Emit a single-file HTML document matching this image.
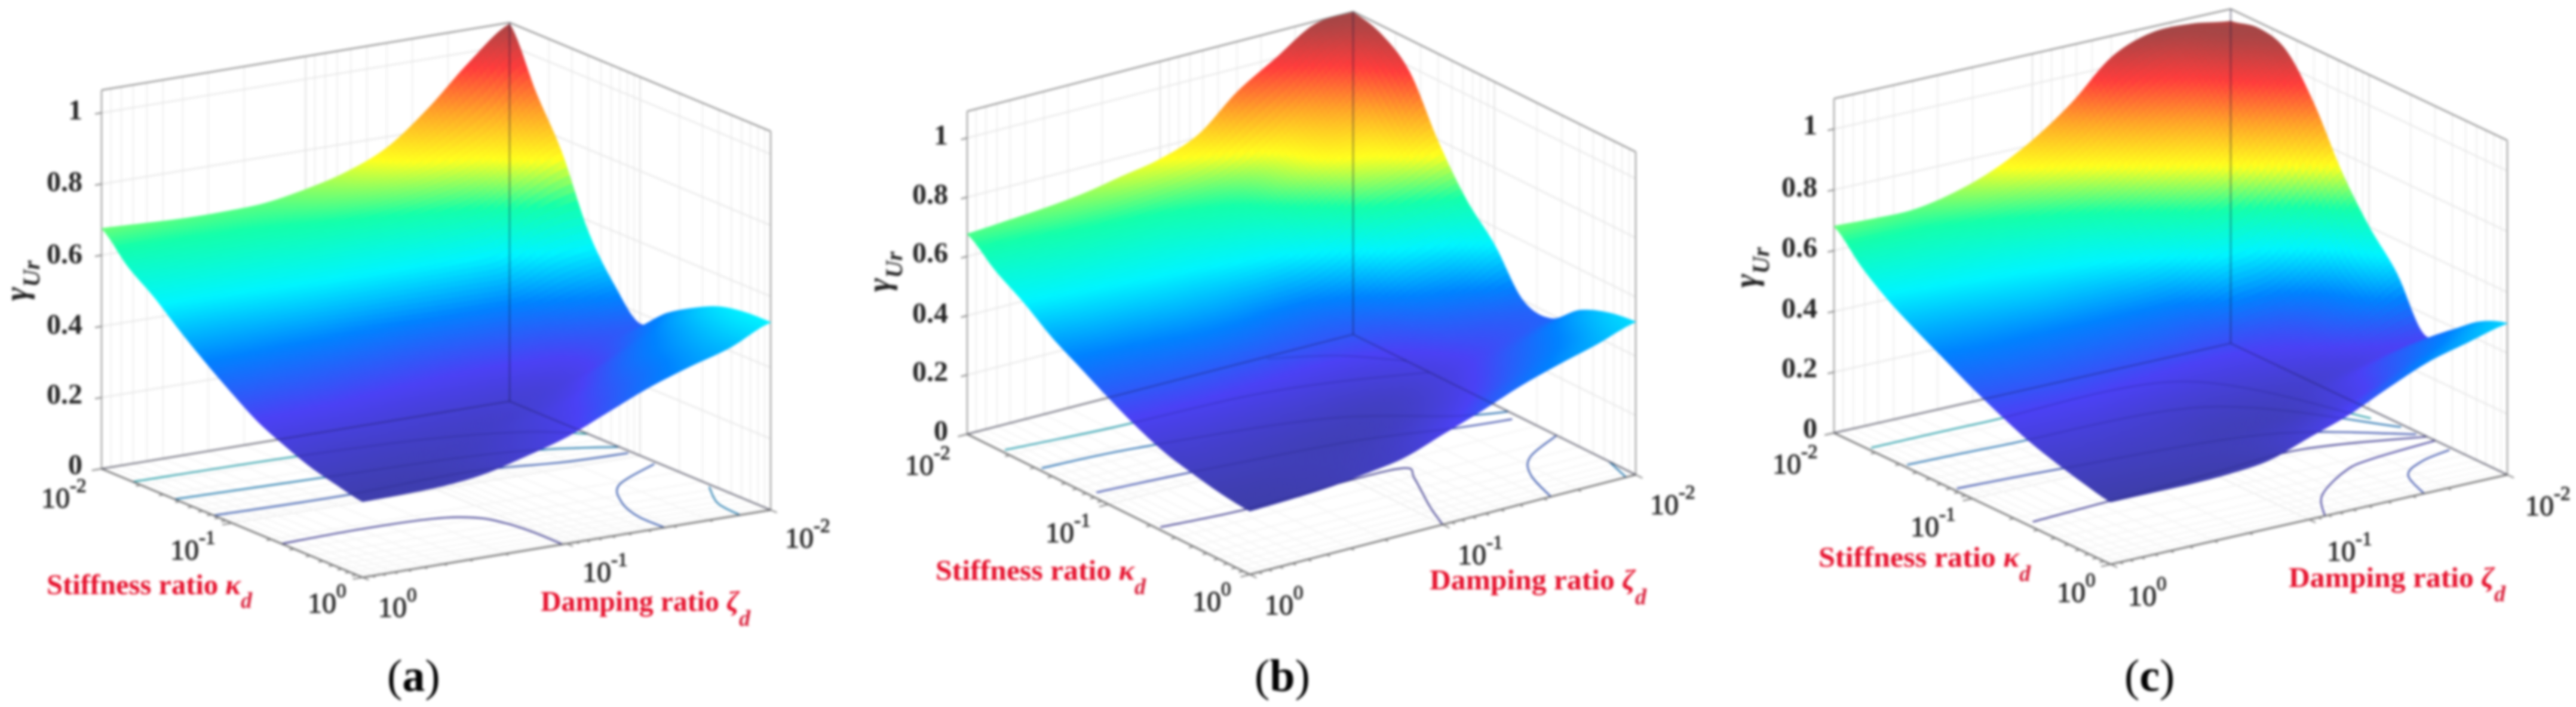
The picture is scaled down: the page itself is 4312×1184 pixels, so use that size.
<!DOCTYPE html>
<html lang="en">
<head>
<meta charset="utf-8">
<title>Response ratio surfaces</title>
<style>
  html, body { margin: 0; padding: 0; background: #fff; }
  body { width: 4312px; height: 1184px; overflow: hidden; }
  svg { display: block; filter: blur(2px); }
  text { font-family: "Liberation Serif", serif; }
  .z { font-size: 48px; font-weight: bold; fill: #222; text-anchor: end; }
  .lg { font-size: 48px; fill: #222; stroke: #222; stroke-width: 1px; }
  .ax { font-size: 48px; font-weight: bold; fill: #e5102c; }
  .sub { font-size: 38px; font-style: italic; font-weight: bold; fill: #d9213c; }
  .gam { font-size: 56px; font-style: italic; font-weight: bold; fill: #222; text-anchor: middle; }
  .cap { font-size: 76px; fill: #000; }
</style>
</head>
<body>
<svg id="fig" xmlns="http://www.w3.org/2000/svg" width="4312" height="1184" viewBox="0 0 4312 1184">
  <rect width="4312" height="1184" fill="#fff"/>
  <g id="panel-a"></g>
  <g id="panel-b"></g>
  <g id="panel-c"></g>

  <g>
    <text class="z" x="138" y="794">0</text>
    <text class="z" x="138" y="676">0.2</text>
    <text class="z" x="138" y="559">0.4</text>
    <text class="z" x="138" y="441">0.6</text>
    <text class="z" x="138" y="320">0.8</text>
    <text class="z" x="138" y="200">1</text>
    <text class="gam" transform="translate(46,470) rotate(-90)">γ<tspan font-size="40" dy="20">Ur</tspan></text>
    <text class="lg" x="69" y="850">10<tspan font-size="33" dy="-26">-2</tspan></text>
    <text class="lg" x="285" y="937">10<tspan font-size="33" dy="-26">-1</tspan></text>
    <text class="lg" x="515" y="1026">10<tspan font-size="33" dy="-26">0</tspan></text>
    <text class="lg" x="633" y="1033">10<tspan font-size="33" dy="-26">0</tspan></text>
    <text class="lg" x="975" y="974">10<tspan font-size="33" dy="-26">-1</tspan></text>
    <text class="lg" x="1314" y="917">10<tspan font-size="33" dy="-26">-2</tspan></text>
    <text class="ax" x="78" y="995" textLength="325" lengthAdjust="spacingAndGlyphs">Stiffness ratio <tspan font-style="italic">κ</tspan></text>
    <text class="sub" x="403" y="1018">d</text>
    <text class="ax" x="905" y="1023" textLength="332" lengthAdjust="spacingAndGlyphs">Damping ratio <tspan font-style="italic">ζ</tspan></text>
    <text class="sub" x="1237" y="1048">d</text>
    <text class="cap" x="648" y="1157">(<tspan font-weight="bold">a</tspan>)</text>
  </g>

  <g>
    <text class="z" x="1587" y="737">0</text>
    <text class="z" x="1587" y="638">0.2</text>
    <text class="z" x="1587" y="540">0.4</text>
    <text class="z" x="1587" y="439">0.6</text>
    <text class="z" x="1587" y="341">0.8</text>
    <text class="z" x="1587" y="242">1</text>
    <text class="gam" transform="translate(1490,455) rotate(-90)">γ<tspan font-size="40" dy="20">Ur</tspan></text>
    <text class="lg" x="1515" y="795">10<tspan font-size="33" dy="-26">-2</tspan></text>
    <text class="lg" x="1750" y="908">10<tspan font-size="33" dy="-26">-1</tspan></text>
    <text class="lg" x="1996" y="1023">10<tspan font-size="33" dy="-26">0</tspan></text>
    <text class="lg" x="2117" y="1029">10<tspan font-size="33" dy="-26">0</tspan></text>
    <text class="lg" x="2440" y="945">10<tspan font-size="33" dy="-26">-1</tspan></text>
    <text class="lg" x="2762" y="861">10<tspan font-size="33" dy="-26">-2</tspan></text>
    <text class="ax" x="1566" y="971" textLength="333" lengthAdjust="spacingAndGlyphs">Stiffness ratio <tspan font-style="italic">κ</tspan></text>
    <text class="sub" x="1899" y="995">d</text>
    <text class="ax" x="2393" y="987" textLength="344" lengthAdjust="spacingAndGlyphs">Damping ratio <tspan font-style="italic">ζ</tspan></text>
    <text class="sub" x="2737" y="1012">d</text>
    <text class="cap" x="2100" y="1157">(<tspan font-weight="bold">b</tspan>)</text>
  </g>

  <g>
    <text class="z" x="3042" y="733">0</text>
    <text class="z" x="3042" y="632">0.2</text>
    <text class="z" x="3042" y="532">0.4</text>
    <text class="z" x="3042" y="430">0.6</text>
    <text class="z" x="3042" y="329">0.8</text>
    <text class="z" x="3042" y="225">1</text>
    <text class="gam" transform="translate(2941,448) rotate(-90)">γ<tspan font-size="40" dy="20">Ur</tspan></text>
    <text class="lg" x="2967" y="793">10<tspan font-size="33" dy="-26">-2</tspan></text>
    <text class="lg" x="3198" y="898">10<tspan font-size="33" dy="-26">-1</tspan></text>
    <text class="lg" x="3443" y="1008">10<tspan font-size="33" dy="-26">0</tspan></text>
    <text class="lg" x="3562" y="1014">10<tspan font-size="33" dy="-26">0</tspan></text>
    <text class="lg" x="3895" y="939">10<tspan font-size="33" dy="-26">-1</tspan></text>
    <text class="lg" x="4227" y="863">10<tspan font-size="33" dy="-26">-2</tspan></text>
    <text class="ax" x="3044" y="949" textLength="336" lengthAdjust="spacingAndGlyphs">Stiffness ratio <tspan font-style="italic">κ</tspan></text>
    <text class="sub" x="3380" y="973">d</text>
    <text class="ax" x="3831" y="983" textLength="344" lengthAdjust="spacingAndGlyphs">Damping ratio <tspan font-style="italic">ζ</tspan></text>
    <text class="sub" x="4175" y="1007">d</text>
    <text class="cap" x="3556" y="1157">(<tspan font-weight="bold">c</tspan>)</text>
  </g>
</svg>

<script>
// ---- Data ----
// Grid axes: log10 of damping ratio (columns) and stiffness ratio (rows).
const zetaLogGrid = [-2, -1.8, -1.6, -1.4, -1.2, -1, -0.8, -0.6, -0.4, -0.2, 0];
const kappaLogGrid = [-2, -1.8, -1.6, -1.4, -1.2, -1, -0.8, -0.6, -0.4, -0.2, 0];
const gammaTicks = [0, 0.2, 0.4, 0.6, 0.8, 1];
const logTicks = [0.01,0.02,0.03,0.04,0.05,0.06,0.07,0.08,0.09,0.1,0.2,0.3,0.4,0.5,0.6,0.7,0.8,0.9,1];

const gammaA = [
  [1.06,.97,.86,.77,.72,.69,.67,.665,.665,.67,.675],
  [.90,.80,.74,.70,.67,.65,.635,.625,.62,.61,.60],
  [.76,.70,.63,.60,.58,.57,.57,.56,.555,.55,.545],
  [.57,.55,.495,.49,.49,.49,.49,.49,.485,.48,.48],
  [.45,.42,.39,.385,.385,.39,.40,.41,.415,.42,.42],
  [.37,.35,.325,.32,.32,.325,.335,.345,.355,.36,.365],
  [.43,.37,.31,.28,.275,.28,.285,.295,.305,.31,.315],
  [.475,.42,.36,.30,.27,.255,.255,.26,.265,.27,.28],
  [.51,.45,.40,.34,.295,.265,.245,.24,.24,.245,.25],
  [.525,.47,.42,.37,.32,.28,.255,.235,.225,.225,.23],
  [.527,.475,.44,.40,.35,.30,.265,.235,.22,.215,.213]
];
const gammaB = [
  [1.087,1.08,1.00,.92,.81,.76,.735,.71,.695,.685,.676],
  [1.06,.96,.85,.76,.70,.67,.65,.64,.63,.615,.60],
  [.98,.82,.77,.70,.63,.60,.58,.57,.56,.55,.54],
  [.795,.73,.68,.60,.54,.52,.51,.505,.495,.485,.47],
  [.645,.60,.55,.47,.43,.43,.44,.44,.43,.42,.415],
  [.54,.47,.43,.38,.36,.36,.365,.37,.37,.365,.36],
  [.40,.38,.36,.32,.30,.295,.30,.305,.31,.31,.31],
  [.385,.36,.33,.29,.26,.25,.255,.26,.265,.27,.27],
  [.46,.41,.36,.31,.27,.245,.235,.235,.24,.245,.245],
  [.50,.445,.40,.35,.305,.27,.245,.235,.23,.225,.225],
  [.516,.475,.44,.40,.35,.305,.26,.24,.225,.218,.214]
];
const gammaC = [
  [1.06,1.08,1.08,1.03,.91,.815,.745,.70,.675,.675,.68],
  [1.08,1.06,.97,.88,.78,.71,.66,.63,.61,.60,.59],
  [1.05,.96,.83,.74,.66,.60,.57,.55,.54,.53,.52],
  [.92,.80,.69,.62,.55,.51,.495,.49,.48,.47,.465],
  [.74,.62,.52,.49,.43,.42,.42,.42,.42,.42,.415],
  [.60,.47,.39,.36,.35,.355,.36,.365,.37,.37,.365],
  [.49,.40,.33,.30,.29,.29,.30,.31,.32,.32,.32],
  [.33,.31,.28,.26,.25,.25,.255,.265,.275,.28,.28],
  [.39,.37,.33,.28,.24,.23,.23,.24,.245,.25,.25],
  [.46,.42,.37,.31,.27,.245,.23,.225,.225,.225,.225],
  [.498,.465,.43,.375,.315,.27,.225,.21,.205,.205,.205]
];

// Floor contour traces: position along each log axis (0 = 10^-2, 1 = 10^0), with the gamma level.
const contourALevels = [.25,.38,.47,.55,.38,.47];
const contourAZeta = [
  [1,.81,.63,.55,.52,.51,.51],
  [1,.69,.37,.16,.01],
  [1,.63,.3,.13,0],
  [1,.62,.3,.1,0],
  [.01,.16,.23,.26,.26],
  [.01,.065,.075]
];
const contourAKappa = [
  [.69,.68,.69,.73,.80,.89,1],
  [.43,.44,.42,.46,.47],
  [.28,.30,.32,.36,.42],
  [.12,.13,.16,.22,.3],
  [.57,.67,.79,.90,1],
  [.78,.90,1]
];
const contourBLevels = [.25,.36,.45,.55,.7,.38,.47];
const contourBZeta = [
  [.99,.78,.5,.37,.39,.46,.5],
  [.98,.75,.37,.14,.02],
  [.99,.76,.34,.1,0],
  [.99,.73,.4,.2,0],
  [.23,.1,0],
  [0,.12,.18,.22],
  [0,.025]
];
const contourBKappa = [
  [.67,.69,.68,.69,.75,.90,1],
  [.43,.45,.50,.565,.59],
  [.25,.27,.36,.51,.55],
  [.12,.145,.16,.2,.27],
  [.01,.08,.19],
  [.72,.79,.875,1],
  [.905,1]
];
const contourCLevels = [.25,.36,.45,.55,.28,.36];
const contourCZeta = [
  [.98,.51,.26,0],
  [.99,.73,.27,.01],
  [.99,.76,.27,.01],
  [.99,.71,.22,.03],
  [0,.17,.26,.39,.46],
  [.01,.095,.17,.21]
];
const contourCKappa = [
  [.69,.65,.63,.71],
  [.43,.45,.51,.685],
  [.25,.26,.30,.63],
  [.12,.12,.14,.55],
  [.74,.76,.79,.89,1],
  [.805,.83,.885,1]
];

// ---- Colormap stops (jet as it appears after the surface transparency) ----
const cmapPos = [0,.125,.25,.375,.5,.625,.75,.875,1];
const cmapRed = [62,75,0,0,20,255,255,255,165];
const cmapGreen = [62,65,130,245,255,255,165,60,70];
const cmapBlue = [170,245,255,255,170,30,40,60,70];

function cmap(u) {
  u = Math.max(0, Math.min(1, u));
  let k = 0;
  while (k < cmapPos.length - 2 && u > cmapPos[k + 1]) k++;
  const f = (u - cmapPos[k]) / (cmapPos[k + 1] - cmapPos[k]);
  const mix = a => Math.round(a[k] + (a[k + 1] - a[k]) * f);
  return [mix(cmapRed), mix(cmapGreen), mix(cmapBlue)];
}

const SVGNS = 'http://www.w3.org/2000/svg';
const logPos = v => (Math.log10(v) + 2) / 2;
const expPos = e => (e + 2) / 2;

// Smooth blending weight between four neighbouring samples
function cr(p0, p1, p2, p3, f) {
  return p1 + 0.5 * f * (p2 - p0 + f * (2 * p0 - 5 * p1 + 4 * p2 - p3 + f * (3 * (p1 - p2) + p3 - p0)));
}

function makePanel(id, geo, gamma, cLevels, cZeta, cKappa) {
  const root = document.getElementById(id);
  // axis function: damping position, stiffness position, gamma -> screen
  const px = (s, t) => geo.B[0] + (geo.L[0] - geo.B[0]) * s + (geo.R[0] - geo.B[0]) * t;
  const py = (s, t, g) => geo.B[1] + (geo.L[1] - geo.B[1]) * s + (geo.R[1] - geo.B[1]) * t - g * geo.unit;
  const P = (s, t, g) => px(s, t).toFixed(1) + ',' + py(s, t, g).toFixed(1);

  function line(parent, name, a, b, color, w, op) {
    const el = document.createElementNS(SVGNS, 'line');
    
    
    el.setAttribute('x1', a[0]); el.setAttribute('y1', a[1]);
    el.setAttribute('x2', b[0]); el.setAttribute('y2', b[1]);
    el.setAttribute('stroke', color);
    el.setAttribute('stroke-width', w);
    if (op) el.setAttribute('opacity', op);
    parent.appendChild(el);
  }
  const pt = (s, t, g) => [px(s, t), py(s, t, g)];
  const isMajor = v => Math.abs(Math.log10(v) - Math.round(Math.log10(v))) < 1e-6;

  const grid = document.createElementNS(SVGNS, 'g');
  
  
  root.appendChild(grid);
  const top = geo.zMax;

  logTicks.forEach(v => {
    const f = logPos(v);
    const col = isMajor(v) ? '#dcdcdc' : '#ececec';
    line(grid, 'zeta-wall-grid-line', pt(f, 0, 0), pt(f, 0, top), col, 1.8);
    line(grid, 'kappa-wall-grid-line', pt(0, f, 0), pt(0, f, top), col, 1.8);
    const fc = isMajor(v) ? '#e8e8e8' : '#f3f3f3';
    line(grid, 'floor-grid-line', pt(f, 0, 0), pt(f, 1, 0), fc, 1.8);
    line(grid, 'floor-grid-line', pt(0, f, 0), pt(1, f, 0), fc, 1.8);
  });
  gammaTicks.forEach(g => {
    line(grid, 'gamma-wall-grid-line', pt(1, 0, g), pt(0, 0, g), '#e6e6e6', 2.2);
    line(grid, 'gamma-wall-grid-line', pt(0, 0, g), pt(0, 1, g), '#e6e6e6', 2.2);
  });

  const contours = document.createElementNS(SVGNS, 'g');
  
  
  root.appendChild(contours);
  // Smooth screen path through a contour's read points
  function contourPath(i) {
    const pts = cZeta[i].map((s, k) => pt(s, cKappa[i][k], 0));
    let d = 'M' + pts[0][0].toFixed(1) + ' ' + pts[0][1].toFixed(1);
    for (let k = 0; k < pts.length - 1; k++) {
      const p0 = pts[Math.max(0, k - 1)], p1 = pts[k], p2 = pts[k + 1], p3 = pts[Math.min(pts.length - 1, k + 2)];
      d += ' C' + (p1[0] + (p2[0] - p0[0]) / 6).toFixed(1) + ' ' + (p1[1] + (p2[1] - p0[1]) / 6).toFixed(1) +
           ' ' + (p2[0] - (p3[0] - p1[0]) / 6).toFixed(1) + ' ' + (p2[1] - (p3[1] - p1[1]) / 6).toFixed(1) +
           ' ' + p2[0].toFixed(1) + ' ' + p2[1].toFixed(1);
    }
    return d;
  }
  cZeta.forEach((_, i) => {
    const u = (cLevels[i] - geo.cMin) / (geo.cMax - geo.cMin);
    const c = cmap(u).map(v => Math.round(v * 0.72));
    const el = document.createElementNS(SVGNS, 'path');
    
    
    el.setAttribute('d', contourPath(i));
    el.setAttribute('fill', 'none');
    el.setAttribute('stroke', 'rgb(' + c.join(',') + ')');
    el.setAttribute('stroke-width', '2.2');
    el.setAttribute('stroke-linejoin', 'round');
    contours.appendChild(el);
  });

  const box = document.createElementNS(SVGNS, 'g');
  
  
  root.appendChild(box);
  const boxCol = '#8c8c8c';
  line(box, 'left-wall-top-edge', pt(1, 0, top), pt(0, 0, top), boxCol, 2.4);
  line(box, 'right-wall-top-edge', pt(0, 0, top), pt(0, 1, top), boxCol, 2.4);
  line(box, 'left-wall-vertical-edge', pt(1, 0, 0), pt(1, 0, top), '#a0a0a0', 2.4);
  line(box, 'right-wall-vertical-edge', pt(0, 1, 0), pt(0, 1, top), '#a0a0a0', 2.4);
  line(box, 'back-floor-edge-left', pt(1, 0, 0), pt(0, 0, 0), '#8c8c8c', 2.2);
  line(box, 'back-floor-edge-right', pt(0, 0, 0), pt(0, 1, 0), '#8c8c8c', 2.2);
  line(box, 'stiffness-axis-line', pt(1, 0, 0), pt(1, 1, 0), '#6e6e6e', 2.8);
  line(box, 'damping-axis-line', pt(1, 1, 0), pt(0, 1, 0), '#6e6e6e', 2.8);
  logTicks.forEach(v => {
    const f = logPos(v);
    const len = isMajor(v) ? .024 : .012;
    line(box, 'stiffness-tick-mark', pt(1, f, 0), pt(1 + len, f, 0), '#777', 2);
    line(box, 'damping-tick-mark', pt(f, 1, 0), pt(f, 1 + len, 0), '#777', 2);
  });
  gammaTicks.forEach(g => {
    line(box, 'gamma-tick-mark', pt(1, 0, g), pt(1.016, 0, g), '#777', 2);
  });

  // Surface: each data cell drawn back to front with fine smooth facets.
  const surf = document.createElementNS(SVGNS, 'g');
  
  
  root.appendChild(surf);
  const SUB = 10;
  const nj = kappaLogGrid.length - 1, ni = zetaLogGrid.length - 1;
  const cl = (v, m) => Math.max(0, Math.min(m, v));
  function rowAt(j, a) {
    const i = Math.min(ni - 1, Math.floor(a)), f = a - i, r = gamma[j];
    return cr(r[cl(i - 1, ni)], r[i], r[i + 1], r[cl(i + 2, ni)], f);
  }
  function val(a, b) {
    const j = Math.min(nj - 1, Math.floor(b)), f = b - j;
    return cr(rowAt(cl(j - 1, nj), a), rowAt(j, a), rowAt(j + 1, a), rowAt(cl(j + 2, nj), a), f);
  }
  function posS(a) {
    const i = Math.min(ni - 1, Math.floor(a));
    return expPos(zetaLogGrid[i] + (zetaLogGrid[i + 1] - zetaLogGrid[i]) * (a - i));
  }
  function posT(b) {
    const j = Math.min(nj - 1, Math.floor(b));
    return expPos(kappaLogGrid[j] + (kappaLogGrid[j + 1] - kappaLogGrid[j]) * (b - j));
  }
  const frag = document.createDocumentFragment();
  for (let jj = 0; jj < nj * SUB; jj++) {
    for (let ii = 0; ii < ni * SUB; ii++) {
      const a0 = ii / SUB, a1 = (ii + 1) / SUB, b0 = jj / SUB, b1 = (jj + 1) / SUB;
      const g = val((a0 + a1) / 2, (b0 + b1) / 2);
      const c = cmap((g - geo.cMin) / (geo.cMax - geo.cMin));
      const col = 'rgb(' + c.join(',') + ')';
      const el = document.createElementNS(SVGNS, 'polygon');
      
      
      el.setAttribute('points', [
        P(posS(a0), posT(b0), val(a0, b0)),
        P(posS(a1), posT(b0), val(a1, b0)),
        P(posS(a1), posT(b1), val(a1, b1)),
        P(posS(a0), posT(b1), val(a0, b1))
      ].join(' '));
      el.setAttribute('fill', col);
      el.setAttribute('stroke', col);
      el.setAttribute('stroke-width', '1');
      frag.appendChild(el);
    }
  }
  surf.appendChild(frag);

  // Lines behind the translucent surface that still show through it.
  const thru = document.createElementNS(SVGNS, 'g');
  
  
  root.appendChild(thru);
  line(thru, 'back-vertical-edge', pt(0, 0, 0), pt(0, 0, top), '#14143c', 2, .5);
  line(thru, 'back-floor-edge-left-through', pt(1, 0, 0), pt(0, 0, 0), '#14143c', 2.4, .35);
  line(thru, 'back-floor-edge-right-through', pt(0, 0, 0), pt(0, 1, 0), '#14143c', 2.4, .35);
  cZeta.forEach((_, i) => {
    const el = document.createElementNS(SVGNS, 'path');
    
    
    el.setAttribute('d', contourPath(i));
    el.setAttribute('fill', 'none');
    el.setAttribute('stroke', '#14145a');
    el.setAttribute('stroke-width', '2');
    el.setAttribute('opacity', '.25');
    thru.appendChild(el);
  });
}

makePanel('panel-a', {L:[170,785], B:[853,672], R:[1290,854], unit:596, zMax:1.064, cMin:.21, cMax:1.064},
  gammaA, contourALevels, contourAZeta, contourAKappa);
makePanel('panel-b', {L:[1619,727], B:[2265,560], R:[2738,795], unit:496, zMax:1.09, cMin:.214, cMax:1.087},
  gammaB, contourBLevels, contourBZeta, contourBKappa);
makePanel('panel-c', {L:[3070,725], B:[3734,575], R:[4197,795], unit:509, zMax:1.1, cMin:.205, cMax:1.08},
  gammaC, contourCLevels, contourCZeta, contourCKappa);
</script>
</body>
</html>
